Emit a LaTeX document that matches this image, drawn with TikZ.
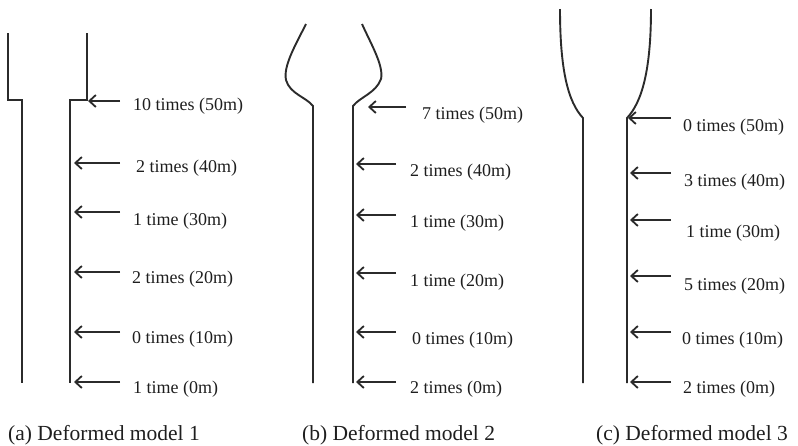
\documentclass[tikz,border=0pt]{standalone}
\usepackage{fontspec}
\setmainfont{Liberation Serif}
\usetikzlibrary{arrows.meta}
\definecolor{wallgray}{HTML}{2B2B2B}
\definecolor{labelgray}{HTML}{1E1E1E}
\tikzset{
  wall/.style={line width=1.9pt, draw=wallgray, line join=miter},
  load/.style={line width=1.8pt, draw=wallgray,
    -{Straight Barb[length=6.5pt,width=12pt,line width=1.8pt]}},
  count/.style={anchor=base west, inner sep=0pt, text=labelgray,
    font=\fontsize{18}{20}\selectfont},
  caption/.style={anchor=base west, inner sep=0pt, text=labelgray,
    font=\fontsize{21.5}{23}\selectfont}
}
\begin{document}
\begin{tikzpicture}[x=1pt,y=-1pt]
\useasboundingbox (0,0) rectangle (798,445);

% ---------- (a) model 1: stepped wall ----------
\coordinate (a-l0) at (8,33);   \coordinate (a-l1) at (8,100);
\coordinate (a-l2) at (22,100); \coordinate (a-l3) at (22,383);
\coordinate (a-r0) at (87,33);  \coordinate (a-r1) at (87,100);
\coordinate (a-r2) at (70,100); \coordinate (a-r3) at (70,383);
\draw[wall] (a-l0) -- (a-l1) -- (a-l2) -- (a-l3);
\draw[wall] (a-r0) -- (a-r1) -- (a-r2) -- (a-r3);

\foreach \i/\tipx/\ay/\tx/\by/\txt in {
  1/88/101/133/110/{10 times (50m)},
  2/74/163/136/172/{2 times (40m)},
  3/74/212/133/225/{1 time (30m)},
  4/74/272/132/283/{2 times (20m)},
  5/74/332/132/343/{0 times (10m)},
  6/74/382/133/393/{1 time (0m)}}{
  \coordinate (a-tail\i) at (120,\ay);
  \coordinate (a-tip\i) at (\tipx,\ay);
  \draw[load] (a-tail\i) -- (a-tip\i);
  \node[count] (a-txt\i) at (\tx,\by) {\txt};
}
\node[caption] (a-cap) at (8,440) {(a) Deformed model 1};

% ---------- (b) model 2: bulged top ----------
\coordinate (b-l0) at (306,24);  \coordinate (b-l1) at (286,80);
\coordinate (b-l2) at (313,106); \coordinate (b-l3) at (313,383);
\coordinate (b-r0) at (362,24);  \coordinate (b-r1) at (381,79);
\coordinate (b-r2) at (353,106); \coordinate (b-r3) at (353,383);
\draw[wall] (b-l0) .. controls (296,44) and (283,66) .. (b-l1)
  .. controls (290,94) and (306,97) .. (b-l2) -- (b-l3);
\draw[wall] (b-r0) .. controls (371,44) and (384,66) .. (b-r1)
  .. controls (376,93) and (360,97) .. (b-r2) -- (b-r3);

\foreach \i/\tipx/\tailx/\ay/\tx/\by/\txt in {
  1/368/406/107/422/119/{7 times (50m)},
  2/356/396/164/410/176/{2 times (40m)},
  3/356/396/215/410/227/{1 time (30m)},
  4/356/396/273/410/286/{1 time (20m)},
  5/356/396/332/412/344/{0 times (10m)},
  6/356/396/382/410/393/{2 times (0m)}}{
  \coordinate (b-tail\i) at (\tailx,\ay);
  \coordinate (b-tip\i) at (\tipx,\ay);
  \draw[load] (b-tail\i) -- (b-tip\i);
  \node[count] (b-txt\i) at (\tx,\by) {\txt};
}
\node[caption] (b-cap) at (302,440) {(b) Deformed model 2};

% ---------- (c) model 3: flared top ----------
\coordinate (c-l0) at (560,9);   \coordinate (c-l1) at (583,118);
\coordinate (c-l2) at (583,383);
\coordinate (c-r0) at (651,9);   \coordinate (c-r1) at (627,118);
\coordinate (c-r2) at (627,383);
\draw[wall] (c-l0) .. controls (560,70) and (568,102) .. (c-l1) -- (c-l2);
\draw[wall] (c-r0) .. controls (651,70) and (642,102) .. (c-r1) -- (c-r2);

\foreach \i/\tipx/\ay/\tx/\by/\txt in {
  1/628/118/683/131/{0 times (50m)},
  2/630/173/684/186/{3 times (40m)},
  3/630/220/686/237/{1 time (30m)},
  4/630/276/684/290/{5 times (20m)},
  5/630/332/682/344/{0 times (10m)},
  6/630/382/683/393/{2 times (0m)}}{
  \coordinate (c-tail\i) at (671,\ay);
  \coordinate (c-tip\i) at (\tipx,\ay);
  \draw[load] (c-tail\i) -- (c-tip\i);
  \node[count] (c-txt\i) at (\tx,\by) {\txt};
}
\node[caption] (c-cap) at (596,440) {(c) Deformed model 3};
\end{tikzpicture}
\end{document}
